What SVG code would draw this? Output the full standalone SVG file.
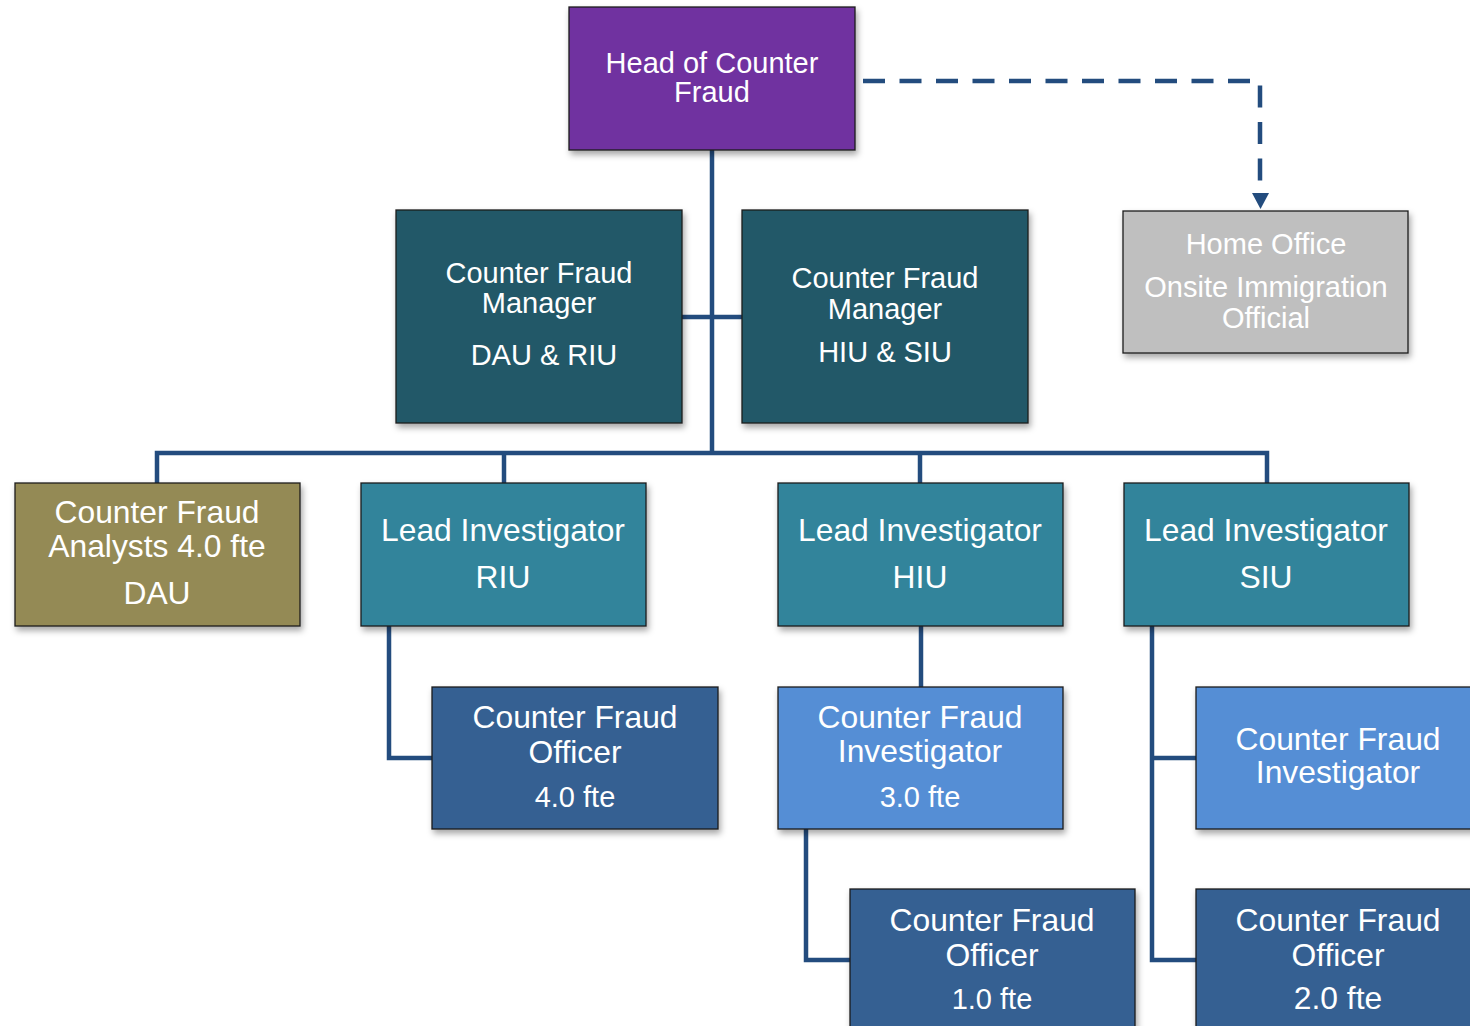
<svg xmlns="http://www.w3.org/2000/svg" width="1470" height="1026" viewBox="0 0 1470 1026">
<style>
.box{stroke:#1c1c1c;stroke-width:1.3;filter:url(#sh)}
.t{fill:#ffffff;font-family:"Liberation Sans",Arial,sans-serif;text-anchor:middle}
.s{font-size:29px}
.l{font-size:31.8px}
.con{fill:none;stroke:#234C7E;stroke-width:4.5;stroke-linejoin:miter}
.dash{fill:none;stroke:#234C7E;stroke-width:4.5;stroke-dasharray:22 14.5}
</style>
<defs>
<filter id="sh" x="-10%" y="-10%" width="125%" height="130%">
<feDropShadow dx="2" dy="4" stdDeviation="3" flood-color="#000" flood-opacity="0.35"/>
</filter>
</defs>
<rect width="1470" height="1026" fill="#ffffff"/>
<g id="connectors">
<path class="con" d="M712,150 V453"/>
<path class="con" d="M682,317 H742"/>
<path class="con" d="M157,483 V453 H1267 V483"/>
<path class="con" d="M504,453 V483"/>
<path class="con" d="M920,453 V483"/>
<path class="con" d="M389,626 V758 H432"/>
<path class="con" d="M921,626 V687"/>
<path class="con" d="M806,829 V960 H850"/>
<path class="con" d="M1152,626 V960 H1196"/>
<path class="con" d="M1152,758 H1196"/>
<path class="dash" d="M863,81 H1260 V198"/>
<path d="M1252,193 L1269,193 L1260.5,209 Z" fill="#234C7E"/>
</g>
<g id="head">
<rect class="box" x="569" y="7" width="286" height="143" fill="#7030A0"/>
<text class="t s" x="712" y="73">Head of Counter</text>
<text class="t s" x="712" y="102">Fraud</text>
</g>
<g id="home-office">
<rect class="box" x="1123" y="211" width="285" height="142" fill="#BFBFBF"/>
<text class="t s" x="1266" y="254">Home Office</text>
<text class="t s" x="1266" y="297">Onsite Immigration</text>
<text class="t s" x="1266" y="328">Official</text>
</g>
<g id="manager-dau-riu">
<rect class="box" x="396" y="210" width="286" height="213" fill="#215968"/>
<text class="t s" x="539" y="283">Counter Fraud</text>
<text class="t s" x="539" y="313">Manager</text>
<text class="t s" x="544" y="365">DAU &amp; RIU</text>
</g>
<g id="manager-hiu-siu">
<rect class="box" x="742" y="210" width="286" height="213" fill="#215968"/>
<text class="t s" x="885" y="288">Counter Fraud</text>
<text class="t s" x="885" y="319">Manager</text>
<text class="t s" x="885" y="362">HIU &amp; SIU</text>
</g>
<g id="analysts-dau">
<rect class="box" x="15" y="483" width="285" height="143" fill="#948A54"/>
<text class="t l" x="157" y="523">Counter Fraud</text>
<text class="t l" x="157" y="557">Analysts 4.0 fte</text>
<text class="t l" x="157" y="604">DAU</text>
</g>
<g id="lead-riu">
<rect class="box" x="361" y="483" width="285" height="143" fill="#31849B"/>
<text class="t l" x="503" y="541">Lead Investigator</text>
<text class="t l" x="503" y="588">RIU</text>
</g>
<g id="lead-hiu">
<rect class="box" x="778" y="483" width="285" height="143" fill="#31849B"/>
<text class="t l" x="920" y="541">Lead Investigator</text>
<text class="t l" x="920" y="588">HIU</text>
</g>
<g id="lead-siu">
<rect class="box" x="1124" y="483" width="285" height="143" fill="#31849B"/>
<text class="t l" x="1266" y="541">Lead Investigator</text>
<text class="t l" x="1266" y="588">SIU</text>
</g>
<g id="officer-riu">
<rect class="box" x="432" y="687" width="286" height="142" fill="#366092"/>
<text class="t l" x="575" y="728">Counter Fraud</text>
<text class="t l" x="575" y="763">Officer</text>
<text class="t s" x="575" y="807">4.0 fte</text>
</g>
<g id="investigator-hiu">
<rect class="box" x="778" y="687" width="285" height="142" fill="#558ED5"/>
<text class="t l" x="920" y="728">Counter Fraud</text>
<text class="t l" x="920" y="762">Investigator</text>
<text class="t s" x="920" y="807">3.0 fte</text>
</g>
<g id="investigator-siu">
<rect class="box" x="1196" y="687" width="286" height="142" fill="#558ED5"/>
<text class="t l" x="1338" y="750">Counter Fraud</text>
<text class="t l" x="1338" y="783">Investigator</text>
</g>
<g id="officer-hiu">
<rect class="box" x="850" y="889" width="285" height="150" fill="#366092"/>
<text class="t l" x="992" y="931">Counter Fraud</text>
<text class="t l" x="992" y="966">Officer</text>
<text class="t s" x="992" y="1009">1.0 fte</text>
</g>
<g id="officer-siu">
<rect class="box" x="1196" y="889" width="286" height="150" fill="#366092"/>
<text class="t l" x="1338" y="931">Counter Fraud</text>
<text class="t l" x="1338" y="966">Officer</text>
<text class="t l" x="1338" y="1009">2.0 fte</text>
</g>
</svg>
